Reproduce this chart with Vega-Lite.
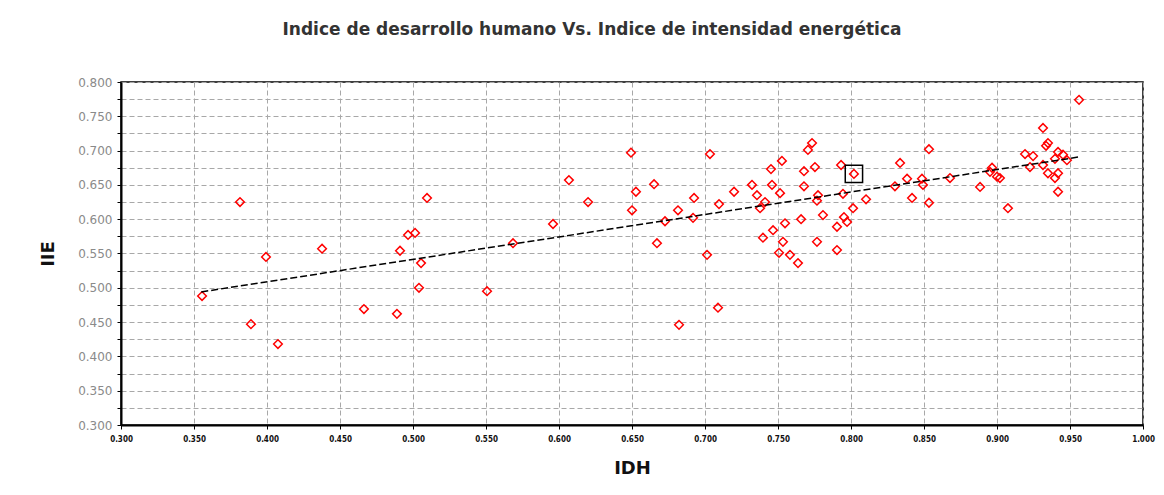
{
  "$schema": "https://vega.github.io/schema/vega-lite/v6.json",
  "width": 1022,
  "height": 343,
  "autosize": {"type": "none"},
  "padding": {"left": 121, "top": 82, "right": 21, "bottom": 70},
  "background": "white",
  "title": {
    "text": "Indice de desarrollo humano Vs. Indice de intensidad energética",
    "font": "DejaVu Sans",
    "fontSize": 17,
    "fontWeight": "bold",
    "color": "#333333",
    "anchor": "middle",
    "dx": -40,
    "offset": 37
  },
  "datasets": {
    "puntos": [
      {"IDH": 0.3555, "IIE": 0.488, "destacado": 0},
      {"IDH": 0.3815, "IIE": 0.625, "destacado": 0},
      {"IDH": 0.389, "IIE": 0.447, "destacado": 0},
      {"IDH": 0.3993, "IIE": 0.545, "destacado": 0},
      {"IDH": 0.4075, "IIE": 0.418, "destacado": 0},
      {"IDH": 0.4377, "IIE": 0.557, "destacado": 0},
      {"IDH": 0.4664, "IIE": 0.469, "destacado": 0},
      {"IDH": 0.489, "IIE": 0.462, "destacado": 0},
      {"IDH": 0.4911, "IIE": 0.554, "destacado": 0},
      {"IDH": 0.4966, "IIE": 0.577, "destacado": 0},
      {"IDH": 0.5014, "IIE": 0.58, "destacado": 0},
      {"IDH": 0.5055, "IIE": 0.536, "destacado": 0},
      {"IDH": 0.5041, "IIE": 0.5, "destacado": 0},
      {"IDH": 0.5096, "IIE": 0.631, "destacado": 0},
      {"IDH": 0.5507, "IIE": 0.495, "destacado": 0},
      {"IDH": 0.5685, "IIE": 0.565, "destacado": 0},
      {"IDH": 0.5959, "IIE": 0.593, "destacado": 0},
      {"IDH": 0.6068, "IIE": 0.657, "destacado": 0},
      {"IDH": 0.6199, "IIE": 0.625, "destacado": 0},
      {"IDH": 0.6493, "IIE": 0.697, "destacado": 0},
      {"IDH": 0.6527, "IIE": 0.64, "destacado": 0},
      {"IDH": 0.6651, "IIE": 0.651, "destacado": 0},
      {"IDH": 0.65, "IIE": 0.613, "destacado": 0},
      {"IDH": 0.6671, "IIE": 0.565, "destacado": 0},
      {"IDH": 0.6726, "IIE": 0.597, "destacado": 0},
      {"IDH": 0.6815, "IIE": 0.613, "destacado": 0},
      {"IDH": 0.6925, "IIE": 0.631, "destacado": 0},
      {"IDH": 0.6918, "IIE": 0.602, "destacado": 0},
      {"IDH": 0.7034, "IIE": 0.695, "destacado": 0},
      {"IDH": 0.7096, "IIE": 0.622, "destacado": 0},
      {"IDH": 0.7014, "IIE": 0.548, "destacado": 0},
      {"IDH": 0.6822, "IIE": 0.446, "destacado": 0},
      {"IDH": 0.7089, "IIE": 0.471, "destacado": 0},
      {"IDH": 0.7199, "IIE": 0.64, "destacado": 0},
      {"IDH": 0.7322, "IIE": 0.65, "destacado": 0},
      {"IDH": 0.7356, "IIE": 0.635, "destacado": 0},
      {"IDH": 0.7411, "IIE": 0.625, "destacado": 0},
      {"IDH": 0.7452, "IIE": 0.673, "destacado": 0},
      {"IDH": 0.7459, "IIE": 0.65, "destacado": 0},
      {"IDH": 0.7527, "IIE": 0.685, "destacado": 0},
      {"IDH": 0.7514, "IIE": 0.638, "destacado": 0},
      {"IDH": 0.7548, "IIE": 0.594, "destacado": 0},
      {"IDH": 0.7466, "IIE": 0.584, "destacado": 0},
      {"IDH": 0.7397, "IIE": 0.573, "destacado": 0},
      {"IDH": 0.7534, "IIE": 0.567, "destacado": 0},
      {"IDH": 0.7507, "IIE": 0.551, "destacado": 0},
      {"IDH": 0.7582, "IIE": 0.548, "destacado": 0},
      {"IDH": 0.7637, "IIE": 0.536, "destacado": 0},
      {"IDH": 0.7377, "IIE": 0.616, "destacado": 0},
      {"IDH": 0.7733, "IIE": 0.711, "destacado": 0},
      {"IDH": 0.7705, "IIE": 0.701, "destacado": 0},
      {"IDH": 0.7678, "IIE": 0.67, "destacado": 0},
      {"IDH": 0.7753, "IIE": 0.676, "destacado": 0},
      {"IDH": 0.7932, "IIE": 0.679, "destacado": 0},
      {"IDH": 0.802, "IIE": 0.666, "destacado": 1},
      {"IDH": 0.7678, "IIE": 0.648, "destacado": 0},
      {"IDH": 0.7774, "IIE": 0.635, "destacado": 0},
      {"IDH": 0.7767, "IIE": 0.627, "destacado": 0},
      {"IDH": 0.7945, "IIE": 0.637, "destacado": 0},
      {"IDH": 0.8103, "IIE": 0.629, "destacado": 0},
      {"IDH": 0.8014, "IIE": 0.616, "destacado": 0},
      {"IDH": 0.7808, "IIE": 0.606, "destacado": 0},
      {"IDH": 0.7658, "IIE": 0.6, "destacado": 0},
      {"IDH": 0.7952, "IIE": 0.603, "destacado": 0},
      {"IDH": 0.7973, "IIE": 0.596, "destacado": 0},
      {"IDH": 0.7904, "IIE": 0.589, "destacado": 0},
      {"IDH": 0.7767, "IIE": 0.567, "destacado": 0},
      {"IDH": 0.7904, "IIE": 0.555, "destacado": 0},
      {"IDH": 0.8534, "IIE": 0.702, "destacado": 0},
      {"IDH": 0.8336, "IIE": 0.682, "destacado": 0},
      {"IDH": 0.8384, "IIE": 0.659, "destacado": 0},
      {"IDH": 0.8486, "IIE": 0.659, "destacado": 0},
      {"IDH": 0.8301, "IIE": 0.648, "destacado": 0},
      {"IDH": 0.8493, "IIE": 0.65, "destacado": 0},
      {"IDH": 0.8678, "IIE": 0.66, "destacado": 0},
      {"IDH": 0.8884, "IIE": 0.647, "destacado": 0},
      {"IDH": 0.8966, "IIE": 0.675, "destacado": 0},
      {"IDH": 0.9, "IIE": 0.662, "destacado": 0},
      {"IDH": 0.8418, "IIE": 0.631, "destacado": 0},
      {"IDH": 0.8534, "IIE": 0.624, "destacado": 0},
      {"IDH": 0.9562, "IIE": 0.774, "destacado": 0},
      {"IDH": 0.9315, "IIE": 0.733, "destacado": 0},
      {"IDH": 0.9349, "IIE": 0.711, "destacado": 0},
      {"IDH": 0.9336, "IIE": 0.707, "destacado": 0},
      {"IDH": 0.9192, "IIE": 0.695, "destacado": 0},
      {"IDH": 0.9247, "IIE": 0.692, "destacado": 0},
      {"IDH": 0.9418, "IIE": 0.698, "destacado": 0},
      {"IDH": 0.9452, "IIE": 0.694, "destacado": 0},
      {"IDH": 0.9397, "IIE": 0.688, "destacado": 0},
      {"IDH": 0.9479, "IIE": 0.686, "destacado": 0},
      {"IDH": 0.9226, "IIE": 0.676, "destacado": 0},
      {"IDH": 0.9315, "IIE": 0.679, "destacado": 0},
      {"IDH": 0.9349, "IIE": 0.667, "destacado": 0},
      {"IDH": 0.9418, "IIE": 0.667, "destacado": 0},
      {"IDH": 0.9397, "IIE": 0.66, "destacado": 0},
      {"IDH": 0.9418, "IIE": 0.64, "destacado": 0},
      {"IDH": 0.902, "IIE": 0.66, "destacado": 0},
      {"IDH": 0.9075, "IIE": 0.616, "destacado": 0},
      {"IDH": 0.8952, "IIE": 0.669, "destacado": 0}
    ],
    "tendencia": [
      {"IDH": 0.355, "IIE": 0.494},
      {"IDH": 0.957, "IIE": 0.691}
    ]
  },
  "config": {
    "view": {"stroke": "#000000", "strokeWidth": 1.5},
    "axis": {
      "gridColor": "#a8a8a8",
      "gridDash": [5, 3],
      "gridWidth": 1,
      "domainColor": "#000000",
      "domainWidth": 2,
      "tickColor": "#000000",
      "tickSize": 4
    }
  },
  "layer": [
    {
      "data": {"name": "puntos"},
      "mark": {"type": "point", "shape": "diamond", "filled": false, "color": "#ff0000", "strokeWidth": 1.5, "size": 75, "opacity": 1},
      "encoding": {
        "x": {
          "field": "IDH", "type": "quantitative",
          "scale": {"domain": [0.3, 1.0], "nice": false, "zero": false},
          "axis": {
            "title": "IDH",
            "titleFont": "DejaVu Sans", "titleFontSize": 18, "titleFontWeight": "bold", "titleColor": "#111111",
            "titlePadding": 16,
            "tickCount": 30,
            "values": [0.3, 0.35, 0.4, 0.45, 0.5, 0.55, 0.6, 0.65, 0.7, 0.75, 0.8, 0.85, 0.9, 0.95, 1.0],
            "format": ".3f",
            "labelFont": "DejaVu Sans Condensed", "labelFontSize": 8, "labelFontWeight": "bold", "labelColor": "#111111",
            "labelPadding": 6,
            "labelFlush": false,
            "labelOverlap": false
          }
        },
        "y": {
          "field": "IIE", "type": "quantitative",
          "scale": {"domain": [0.3, 0.8], "nice": false, "zero": false},
          "axis": {
            "title": "IIE",
            "titleFont": "DejaVu Sans", "titleFontSize": 18, "titleFontWeight": "bold", "titleColor": "#111111",
            "titlePadding": 20,
            "tickCount": 30,
            "values": [0.3, 0.325, 0.35, 0.375, 0.4, 0.425, 0.45, 0.475, 0.5, 0.525, 0.55, 0.575, 0.6, 0.625, 0.65, 0.675, 0.7, 0.725, 0.75, 0.775, 0.8],
            "labelExpr": "round(datum.value * 1000) % 50 === 0 ? format(datum.value, '.3f') : ''",
            "labelFont": "DejaVu Sans", "labelFontSize": 12, "labelColor": "#8a8a8a",
            "labelPadding": 5,
            "labelFlush": false,
            "labelOverlap": false
          }
        }
      }
    },
    {
      "data": {"name": "tendencia"},
      "mark": {"type": "line", "color": "#000000", "strokeWidth": 1.5, "strokeDash": [7, 3]},
      "encoding": {
        "x": {"field": "IDH", "type": "quantitative"},
        "y": {"field": "IIE", "type": "quantitative"}
      }
    },
    {
      "data": {"name": "puntos"},
      "transform": [{"filter": "datum.destacado === 1"}],
      "mark": {"type": "point", "shape": "square", "filled": false, "color": "#000000", "strokeWidth": 1.5, "size": 300, "opacity": 1},
      "encoding": {
        "x": {"field": "IDH", "type": "quantitative"},
        "y": {"field": "IIE", "type": "quantitative"}
      }
    }
  ]
}
